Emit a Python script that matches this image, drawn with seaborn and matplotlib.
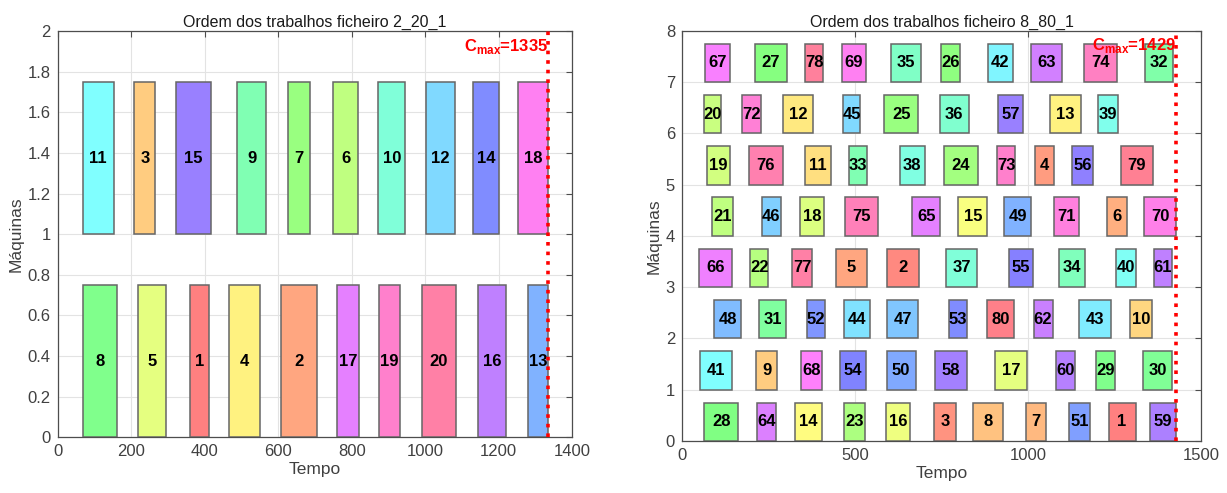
import matplotlib
matplotlib.use('Agg')
import matplotlib.pyplot as plt
import seaborn as sns

# ---- ficheiro 2_20_1 (2 machines, 20 jobs) ----
n_jobs_a = 20
cmax_a = 1335
jobs_a = [
    [8, 5, 1, 4, 2, 17, 19, 20, 16, 13],
    [11, 3, 15, 9, 7, 6, 10, 12, 14, 18],
]
start_a = [
    [70, 219, 360, 467, 607, 760, 875, 991, 1145, 1280],
    [68, 209, 322, 489, 627, 750, 873, 1002, 1131, 1253],
]
end_a = [
    [161, 296, 411, 550, 707, 820, 932, 1084, 1219, 1335],
    [152, 265, 418, 567, 687, 818, 946, 1081, 1200, 1335],
]

# ---- ficheiro 8_80_1 (8 machines, 80 jobs) ----
n_jobs_b = 80
cmax_b = 1429
jobs_b = [
    [28, 64, 14, 23, 16, 3, 8, 7, 51, 1, 59],
    [41, 9, 68, 54, 50, 58, 17, 60, 29, 30],
    [48, 31, 52, 44, 47, 53, 80, 62, 43, 10],
    [66, 22, 77, 5, 2, 37, 55, 34, 40, 61],
    [21, 46, 18, 75, 65, 15, 49, 71, 6, 70],
    [19, 76, 11, 33, 38, 24, 73, 4, 56, 79],
    [20, 72, 12, 45, 25, 36, 57, 13, 39],
    [67, 27, 78, 69, 35, 26, 42, 63, 74, 32],
]
start_b = [
    [65, 217, 327, 469, 590, 728, 842, 993, 1118, 1233, 1352],
    [53, 215, 345, 457, 592, 731, 905, 1082, 1196, 1333],
    [94, 223, 360, 469, 593, 772, 881, 1016, 1147, 1296],
    [49, 198, 319, 446, 594, 763, 946, 1089, 1254, 1364],
    [88, 232, 342, 470, 666, 799, 931, 1076, 1229, 1335],
    [72, 193, 357, 483, 629, 756, 910, 1019, 1126, 1270],
    [63, 174, 292, 465, 585, 745, 914, 1064, 1202],
    [67, 212, 356, 462, 604, 750, 884, 1008, 1162, 1339],
]
end_b = [
    [163, 272, 405, 530, 658, 791, 928, 1052, 1180, 1311, 1429],
    [144, 275, 405, 532, 675, 825, 998, 1136, 1251, 1415],
    [170, 302, 412, 544, 682, 825, 960, 1071, 1239, 1359],
    [144, 248, 376, 534, 686, 853, 1014, 1164, 1313, 1417],
    [147, 285, 410, 566, 746, 882, 1009, 1148, 1285, 1429],
    [140, 291, 430, 534, 701, 855, 963, 1075, 1188, 1360],
    [113, 228, 380, 515, 682, 829, 985, 1152, 1259],
    [138, 303, 408, 533, 691, 803, 957, 1097, 1257, 1420],
]

BAR_H = 0.75
TXT = '#404040'
AX = '#4d4d4d'

sns.set_style('whitegrid')
plt.rcParams['font.family'] = ['Liberation Sans', 'DejaVu Sans']
plt.rcParams['mathtext.fontset'] = 'custom'
plt.rcParams['mathtext.rm'] = 'Liberation Sans'
plt.rcParams['mathtext.bf'] = 'Liberation Sans:bold'


def draw_gantt(ax, jobs, starts, ends, n_jobs, cmax, title, xlim, xticks, ylim, yticks, ytxt):
    """Draw one schedule as boxes per machine."""
    pal = sns.hls_palette(n_jobs, h=0, l=0.75, s=1.0)
    for m, (jj, ss, ee) in enumerate(zip(jobs, starts, ends)):
        widths = [e - s for s, e in zip(ss, ee)]
        cols = [pal[j - 1] for j in jj]
        ax.bar(ss, BAR_H, width=widths, bottom=m, align='edge',
               color=cols, edgecolor='#666666', linewidth=1.1, zorder=3)
        for j, s, w in zip(jj, ss, widths):
            ax.text(s + w / 2, m + BAR_H / 2, str(j), ha='center', va='center',
                    fontsize=12, fontweight='bold', color='black', zorder=4)

    ax.plot([cmax, cmax], [ylim[0], ylim[1]], color='red', linestyle=':',
            linewidth=2.6, zorder=5, clip_on=False)
    ax.text(cmax, ytxt, r'$\mathbf{C}_{\mathbf{max}}$=' + str(cmax), color='red',
            fontsize=12, fontweight='bold', ha='right', va='top', zorder=6)

    ax.set_xlim(*xlim)
    ax.set_ylim(*ylim)
    ax.set_xticks(xticks)
    ax.set_yticks(yticks)
    ax.set_yticklabels([f'{v:g}' for v in yticks])
    ax.grid(True, color='#e3e3e3', linewidth=0.8, zorder=0)
    ax.set_axisbelow(True)
    for sp in ax.spines.values():
        sp.set_color(AX)
        sp.set_linewidth(0.9)
        sp.set_visible(True)
    ax.tick_params(direction='in', top=True, right=True, length=4, width=0.8,
                   color=AX, labelcolor=TXT, labelsize=12, pad=5)
    ax.set_title(title, fontsize=11.5, color='#1a1a1a', pad=3)
    ax.set_xlabel('Tempo', fontsize=12.5, color=TXT, labelpad=2)
    ax.set_ylabel('Máquinas', fontsize=12.5, color=TXT, labelpad=3)


fig = plt.figure(figsize=(12.27, 4.93), dpi=100)
ax1 = fig.add_axes([0.047, 0.113, 0.4193, 0.824])
ax2 = fig.add_axes([0.5558, 0.1055, 0.423, 0.832])

draw_gantt(ax1, jobs_a, start_a, end_a, n_jobs_a, cmax_a,
           'Ordem dos trabalhos ficheiro 2_20_1',
           (0, 1400), list(range(0, 1401, 200)),
           (0, 2), [i / 5 for i in range(11)], 1.97)
draw_gantt(ax2, jobs_b, start_b, end_b, n_jobs_b, cmax_b,
           'Ordem dos trabalhos ficheiro 8_80_1',
           (0, 1500), [0, 500, 1000, 1500],
           (0, 8), list(range(9)), 7.9)

fig.savefig('out.png', dpi=100)
